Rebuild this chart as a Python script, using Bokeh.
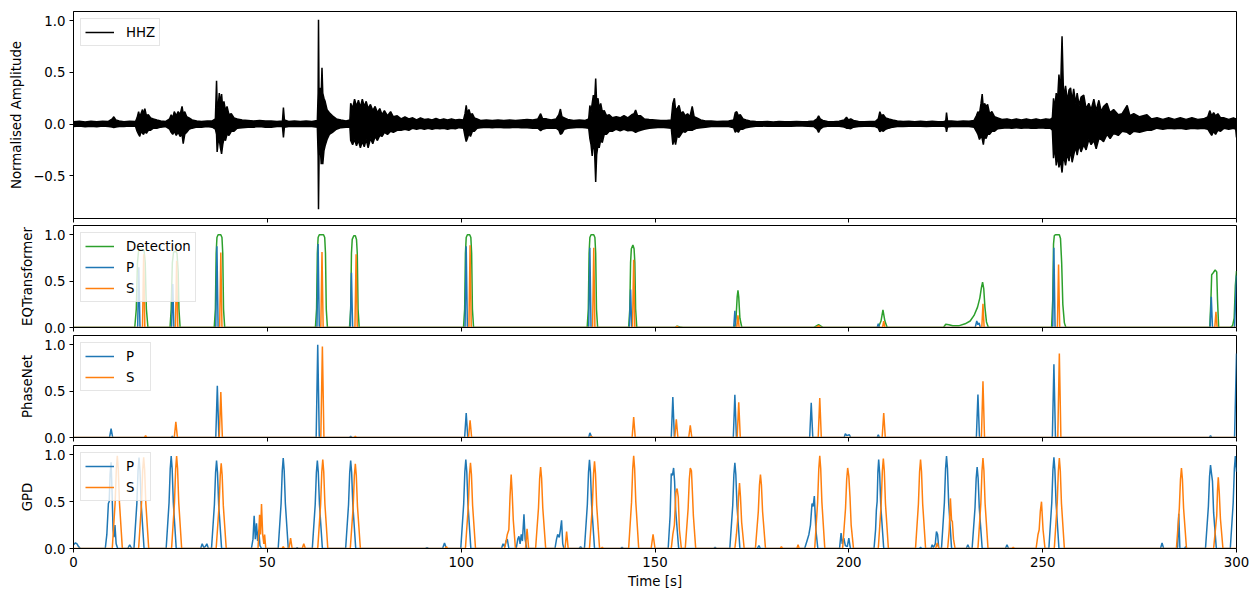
from bokeh.plotting import figure
from bokeh.layouts import column
from bokeh.models import Range1d, FixedTicker, CustomJSTickFormatter, Legend, LegendItem
from bokeh.embed import file_html
from bokeh.resources import INLINE

# ---------------- data ----------------
time_ticks = [0, 50, 100, 150, 200, 250, 300]
amp_ticks = [-0.5, 0.0, 0.5, 1.0]
prob_ticks = [0.0, 0.5, 1.0]

# HHZ trace envelope: (time [s], upper, lower) normalised amplitude
hhz_envelope = [
    (0.0, 0.022, -0.025), (1.5, 0.028, -0.02), (3.0, 0.02, -0.026), (4.5, 0.027, -0.022),
    (6.0, 0.022, -0.027), (7.5, 0.028, -0.02), (9.0, 0.025, -0.025), (10.0, 0.05, -0.03),
    (10.4, 0.07, -0.035), (10.9, 0.04, -0.03), (11.8, 0.03, -0.025), (13.0, 0.022, -0.025),
    (14.5, 0.026, -0.02), (16.0, 0.025, -0.022), (16.4, 0.06, -0.07), (16.8, 0.12, -0.1),
    (17.1, 0.07, -0.12), (17.4, 0.1, -0.07), (17.8, 0.14, -0.09), (18.1, 0.09, -0.1),
    (18.4, 0.15, -0.07), (18.8, 0.08, -0.09), (19.3, 0.09, -0.06), (19.9, 0.06, -0.06),
    (20.6, 0.05, -0.04), (21.5, 0.04, -0.04), (22.5, 0.03, -0.03), (23.8, 0.025, -0.025),
    (24.8, 0.05, -0.05), (25.2, 0.09, -0.08), (25.6, 0.06, -0.1), (26.0, 0.12, -0.07),
    (26.5, 0.08, -0.11), (27.0, 0.12, -0.08), (27.5, 0.09, -0.12), (28.0, 0.17, -0.1),
    (28.3, 0.1, -0.19), (28.7, 0.12, -0.1), (29.2, 0.07, -0.08), (29.8, 0.06, -0.05),
    (30.6, 0.04, -0.04), (31.8, 0.03, -0.03), (33.0, 0.025, -0.03), (34.5, 0.03, -0.025),
    (35.8, 0.03, -0.03), (36.6, 0.05, -0.05), (36.9, 0.42, -0.1), (37.05, 0.2, -0.27),
    (37.3, 0.15, -0.18), (37.6, 0.3, -0.15), (37.9, 0.2, -0.23), (38.2, 0.29, -0.29),
    (38.5, 0.15, -0.2), (38.8, 0.22, -0.14), (39.2, 0.13, -0.16), (39.6, 0.17, -0.1),
    (40.1, 0.09, -0.11), (40.7, 0.1, -0.07), (41.4, 0.06, -0.07), (42.2, 0.05, -0.04),
    (43.5, 0.04, -0.035), (45.0, 0.035, -0.03), (46.5, 0.03, -0.03), (48.0, 0.035, -0.025),
    (49.5, 0.03, -0.03), (51.0, 0.03, -0.03), (52.5, 0.025, -0.025), (53.9, 0.03, -0.025),
    (54.15, 0.16, -0.13), (54.4, 0.04, -0.03), (55.5, 0.025, -0.025), (57.0, 0.03, -0.025),
    (58.5, 0.025, -0.025), (60.0, 0.03, -0.025), (61.5, 0.025, -0.025), (62.9, 0.035, -0.03),
    (63.1, 0.3, -0.3), (63.2, 1.01, -0.825), (63.35, 0.2, -0.3), (63.6, 0.35, -0.2),
    (63.9, 0.3, -0.39), (64.1, 0.545, -0.3), (64.3, 0.3, -0.39), (64.6, 0.25, -0.26),
    (64.9, 0.22, -0.21), (65.4, 0.14, -0.15), (66.0, 0.11, -0.1), (66.8, 0.08, -0.08),
    (67.8, 0.05, -0.05), (69.0, 0.04, -0.035), (70.3, 0.03, -0.03), (71.3, 0.04, -0.03),
    (71.5, 0.2, -0.16), (72.0, 0.15, -0.2), (72.5, 0.24, -0.15), (73.0, 0.17, -0.21),
    (73.5, 0.23, -0.16), (74.0, 0.16, -0.23), (74.5, 0.24, -0.17), (75.0, 0.17, -0.22),
    (75.5, 0.22, -0.15), (76.0, 0.15, -0.23), (76.6, 0.19, -0.14), (77.2, 0.13, -0.19),
    (77.8, 0.17, -0.12), (78.4, 0.11, -0.16), (79.0, 0.15, -0.11), (79.6, 0.09, -0.12),
    (80.2, 0.13, -0.08), (81.0, 0.08, -0.1), (81.8, 0.12, -0.07), (82.5, 0.07, -0.08),
    (83.5, 0.08, -0.06), (84.5, 0.05, -0.06), (85.5, 0.07, -0.05), (86.5, 0.05, -0.06),
    (87.5, 0.06, -0.04), (88.5, 0.04, -0.05), (89.5, 0.06, -0.04), (90.5, 0.045, -0.05),
    (91.5, 0.05, -0.04), (92.5, 0.04, -0.05), (93.5, 0.055, -0.04), (94.5, 0.04, -0.045),
    (95.5, 0.05, -0.04), (96.5, 0.04, -0.05), (97.5, 0.05, -0.04), (98.5, 0.04, -0.045),
    (99.5, 0.045, -0.035), (100.6, 0.04, -0.04), (101.0, 0.1, -0.12), (101.3, 0.18, -0.17),
    (101.6, 0.1, -0.14), (102.0, 0.14, -0.09), (102.4, 0.09, -0.12), (102.9, 0.1, -0.07),
    (103.4, 0.06, -0.07), (104.1, 0.05, -0.04), (105.0, 0.035, -0.035), (106.5, 0.04, -0.03),
    (108.0, 0.035, -0.035), (109.5, 0.04, -0.03), (111.0, 0.035, -0.035), (112.5, 0.04, -0.035),
    (114.0, 0.035, -0.03), (115.5, 0.04, -0.035), (117.0, 0.045, -0.035), (118.5, 0.04, -0.04),
    (119.8, 0.05, -0.04), (120.5, 0.1, -0.065), (121.0, 0.05, -0.05), (122.0, 0.05, -0.04),
    (123.2, 0.04, -0.04), (124.5, 0.05, -0.04), (125.2, 0.09, -0.06), (125.6, 0.145, -0.1),
    (126.0, 0.07, -0.09), (126.6, 0.06, -0.05), (127.5, 0.045, -0.04), (129.0, 0.035, -0.035),
    (130.5, 0.04, -0.03), (132.0, 0.035, -0.035), (132.9, 0.05, -0.04), (133.2, 0.18, -0.14),
    (133.5, 0.12, -0.2), (133.8, 0.2, -0.31), (134.1, 0.28, -0.18), (134.4, 0.2, -0.25),
    (134.7, 0.44, -0.56), (134.95, 0.2, -0.3), (135.3, 0.25, -0.2), (135.6, 0.15, -0.23),
    (136.0, 0.2, -0.15), (136.4, 0.12, -0.18), (136.9, 0.13, -0.1), (137.5, 0.08, -0.1),
    (138.2, 0.09, -0.07), (139.0, 0.06, -0.07), (140.0, 0.07, -0.05), (141.0, 0.06, -0.065),
    (142.0, 0.08, -0.05), (143.0, 0.06, -0.065), (144.0, 0.09, -0.06), (144.6, 0.1, -0.07),
    (145.0, 0.135, -0.08), (145.5, 0.08, -0.07), (146.3, 0.08, -0.06), (147.2, 0.05, -0.05),
    (148.5, 0.045, -0.04), (150.0, 0.04, -0.035), (151.5, 0.035, -0.03), (153.0, 0.035, -0.035),
    (154.2, 0.04, -0.04), (154.6, 0.2, -0.2), (155.0, 0.25, -0.14), (155.3, 0.14, -0.2),
    (155.7, 0.15, -0.12), (156.2, 0.18, -0.13), (156.7, 0.1, -0.1), (157.2, 0.12, -0.07),
    (157.8, 0.08, -0.08), (158.4, 0.1, -0.06), (159.0, 0.07, -0.06), (159.6, 0.17, -0.06),
    (160.1, 0.07, -0.05), (160.8, 0.06, -0.04), (161.8, 0.04, -0.035), (163.0, 0.03, -0.03),
    (164.5, 0.03, -0.025), (166.0, 0.025, -0.025), (167.5, 0.028, -0.022), (169.0, 0.03, -0.025),
    (170.3, 0.04, -0.035), (170.7, 0.11, -0.08), (171.1, 0.12, -0.06), (171.5, 0.08, -0.08),
    (172.0, 0.09, -0.05), (172.7, 0.05, -0.05), (173.5, 0.04, -0.035), (174.5, 0.03, -0.028),
    (176.0, 0.025, -0.022), (177.5, 0.022, -0.02), (179.0, 0.025, -0.022), (180.5, 0.02, -0.02),
    (182.0, 0.025, -0.022), (183.5, 0.022, -0.02), (185.0, 0.022, -0.022), (186.5, 0.025, -0.02),
    (188.0, 0.022, -0.02), (189.5, 0.025, -0.022), (191.0, 0.03, -0.025), (191.8, 0.05, -0.05),
    (192.2, 0.08, -0.08), (192.6, 0.05, -0.05), (193.3, 0.035, -0.03), (194.5, 0.025, -0.022),
    (196.0, 0.022, -0.022), (197.5, 0.028, -0.022), (198.8, 0.04, -0.03), (199.4, 0.065, -0.04),
    (199.9, 0.04, -0.04), (200.5, 0.05, -0.045), (201.2, 0.035, -0.03), (202.5, 0.025, -0.025),
    (204.0, 0.022, -0.022), (205.5, 0.025, -0.022), (206.8, 0.025, -0.025), (207.6, 0.05, -0.04),
    (208.0, 0.12, -0.075), (208.4, 0.08, -0.06), (208.9, 0.09, -0.07), (209.5, 0.06, -0.05),
    (210.3, 0.05, -0.04), (211.3, 0.04, -0.03), (212.5, 0.03, -0.025), (214.0, 0.025, -0.025),
    (215.5, 0.028, -0.022), (217.0, 0.022, -0.022), (218.5, 0.026, -0.022), (220.0, 0.022, -0.025),
    (221.5, 0.026, -0.022), (223.0, 0.022, -0.022), (224.5, 0.025, -0.022), (225.0, 0.03, -0.03),
    (225.2, 0.11, -0.075), (225.45, 0.03, -0.03), (226.5, 0.03, -0.025), (228.0, 0.025, -0.025),
    (229.5, 0.03, -0.025), (231.0, 0.028, -0.025), (232.3, 0.035, -0.03), (232.9, 0.08, -0.07),
    (233.3, 0.12, -0.1), (233.7, 0.1, -0.15), (234.1, 0.2, -0.12), (234.4, 0.29, -0.14),
    (234.7, 0.15, -0.2), (235.0, 0.2, -0.12), (235.4, 0.17, -0.14), (235.8, 0.19, -0.1),
    (236.3, 0.1, -0.1), (236.9, 0.12, -0.07), (237.6, 0.07, -0.07), (238.4, 0.06, -0.045),
    (239.5, 0.045, -0.04), (240.8, 0.05, -0.035), (242.0, 0.04, -0.04), (243.2, 0.05, -0.035),
    (244.5, 0.04, -0.04), (245.8, 0.05, -0.035), (247.0, 0.04, -0.04), (248.3, 0.05, -0.04),
    (249.5, 0.04, -0.035), (250.8, 0.05, -0.04), (252.0, 0.045, -0.04), (252.5, 0.06, -0.06),
    (252.8, 0.25, -0.33), (253.1, 0.15, -0.2), (253.5, 0.3, -0.4), (253.8, 0.2, -0.3),
    (254.2, 0.48, -0.42), (254.6, 0.3, -0.35), (255.0, 0.85, -0.47), (255.4, 0.25, -0.3),
    (255.9, 0.37, -0.4), (256.4, 0.22, -0.28), (256.8, 0.33, -0.36), (257.2, 0.35, -0.25),
    (257.6, 0.22, -0.37), (258.0, 0.34, -0.3), (258.5, 0.2, -0.22), (258.9, 0.3, -0.3),
    (259.4, 0.18, -0.2), (259.9, 0.26, -0.27), (260.6, 0.28, -0.2), (261.2, 0.15, -0.25),
    (261.9, 0.2, -0.15), (262.5, 0.14, -0.2), (263.2, 0.24, -0.16), (263.8, 0.13, -0.24),
    (264.5, 0.23, -0.14), (265.1, 0.12, -0.15), (265.7, 0.17, -0.17), (266.6, 0.2, -0.1),
    (267.4, 0.11, -0.14), (268.3, 0.14, -0.09), (269.5, 0.09, -0.11), (270.5, 0.1, -0.07),
    (271.8, 0.18, -0.08), (272.5, 0.08, -0.1), (273.5, 0.1, -0.07), (275.0, 0.07, -0.08),
    (276.9, 0.09, -0.06), (278.0, 0.05, -0.06), (279.5, 0.06, -0.04), (281.0, 0.045, -0.05),
    (282.5, 0.06, -0.04), (284.0, 0.045, -0.045), (285.5, 0.06, -0.04), (287.0, 0.045, -0.05),
    (288.5, 0.06, -0.04), (290.0, 0.045, -0.045), (291.5, 0.05, -0.04), (292.6, 0.07, -0.05),
    (293.1, 0.13, -0.08), (293.6, 0.08, -0.11), (294.1, 0.11, -0.07), (294.6, 0.08, -0.1),
    (295.2, 0.1, -0.06), (295.9, 0.06, -0.07), (296.8, 0.06, -0.04), (298.0, 0.045, -0.05),
    (299.2, 0.06, -0.04), (299.8, 0.05, -0.05), (300.0, 0.05, -0.13),
]

# EQTransformer probabilities: (time [s], value)
eqt_detection = [
    (0, 0), (15.8, 0), (16.2, 0.2), (16.5, 0.7), (16.8, 0.83), (17.5, 0.845), (18.2, 0.83), (18.5, 0.7), (18.8, 0.2), (19.2, 0),
    (24.9, 0), (25.2, 0.2), (25.5, 0.7), (25.8, 0.81), (26.3, 0.825), (26.7, 0.8), (27.0, 0.6), (27.2, 0.2), (27.5, 0),
    (36.3, 0), (36.6, 0.2), (36.8, 0.8), (37.0, 0.97), (37.3, 1.0), (38.0, 1.0), (38.3, 0.97), (38.5, 0.8), (38.7, 0.2), (39.0, 0),
    (62.4, 0), (62.7, 0.2), (62.9, 0.8), (63.1, 0.97), (63.4, 1.0), (64.5, 1.0), (64.8, 0.97), (65.0, 0.8), (65.2, 0.2), (65.5, 0),
    (71.2, 0), (71.5, 0.2), (71.7, 0.8), (71.9, 0.95), (72.3, 0.99), (72.7, 0.99), (73.0, 0.95), (73.2, 0.8), (73.4, 0.2), (73.7, 0),
    (100.6, 0), (100.9, 0.2), (101.1, 0.8), (101.3, 0.97), (101.6, 1.0), (102.2, 1.0), (102.5, 0.97), (102.7, 0.8), (102.9, 0.2), (103.2, 0),
    (132.5, 0), (132.8, 0.2), (133.0, 0.8), (133.2, 0.97), (133.5, 1.0), (134.2, 1.0), (134.5, 0.97), (134.7, 0.8), (134.9, 0.2), (135.2, 0),
    (143.2, 0), (143.5, 0.2), (143.7, 0.7), (143.9, 0.85), (144.3, 0.89), (144.6, 0.85), (144.8, 0.7), (145.0, 0.2), (145.3, 0),
    (155.2, 0), (155.7, 0.015), (156.5, 0.005), (157.2, 0),
    (170.5, 0), (170.9, 0.1), (171.2, 0.33), (171.4, 0.4), (171.6, 0.33), (171.9, 0.1), (172.4, 0),
    (191.0, 0), (192.2, 0.03), (193.3, 0),
    (207.6, 0), (208.3, 0.07), (208.8, 0.19), (209.3, 0.07), (209.9, 0),
    (224.4, 0), (225.0, 0.035), (225.8, 0.03), (226.8, 0.018), (228.5, 0.02), (230.0, 0.04), (231.3, 0.07),
    (232.3, 0.13), (233.2, 0.22), (233.8, 0.32), (234.2, 0.43), (234.5, 0.49), (234.8, 0.42), (235.1, 0.22), (235.5, 0.06), (236.0, 0),
    (252.3, 0), (252.6, 0.3), (252.8, 0.9), (253.0, 0.99), (253.3, 1.0), (254.3, 1.0), (254.6, 0.96), (254.9, 0.7), (255.2, 0.25), (255.6, 0.05), (256.0, 0),
    (293.1, 0), (293.4, 0.3), (293.6, 0.57), (294.0, 0.59), (294.5, 0.62), (294.9, 0.6), (295.1, 0.3), (295.4, 0),
    (298.4, 0), (299.0, 0.02), (299.4, 0.1), (299.7, 0.45), (300.0, 0.61),
]
eqt_p = [
    (0, 0), (16.55, 0), (16.85, 0.65), (17.15, 0), (25.3, 0), (25.6, 0.47), (25.9, 0),
    (36.7, 0), (37.0, 0.876), (37.3, 0), (62.8, 0), (63.1, 0.9), (63.4, 0),
    (71.4, 0), (71.7, 0.59), (72.0, 0), (101.0, 0), (101.3, 0.876), (101.6, 0),
    (132.9, 0), (133.2, 0.86), (133.5, 0), (143.4, 0), (143.7, 0.41), (144.0, 0),
    (170.3, 0), (170.6, 0.18), (170.9, 0), (207.3, 0), (207.6, 0.04), (207.9, 0),
    (232.6, 0), (233.0, 0.07), (233.3, 0.03), (233.6, 0.05), (233.9, 0),
    (252.6, 0), (252.9, 0.86), (253.2, 0), (293.2, 0), (293.5, 0.33), (293.8, 0),
    (299.5, 0), (300.0, 0.56),
]
eqt_s = [
    (0, 0), (17.8, 0), (18.1, 0.79), (18.4, 0), (26.3, 0), (26.6, 0.72), (26.9, 0),
    (37.7, 0), (38.0, 0.81), (38.3, 0), (63.8, 0), (64.1, 0.815), (64.4, 0),
    (72.6, 0), (72.9, 0.79), (73.2, 0), (102.0, 0), (102.3, 0.886), (102.6, 0),
    (133.9, 0), (134.2, 0.86), (134.5, 0), (144.2, 0), (144.5, 0.73), (144.8, 0),
    (155.3, 0), (155.7, 0.012), (156.1, 0), (171.1, 0), (171.4, 0.13), (171.7, 0),
    (191.7, 0), (192.2, 0.02), (192.7, 0), (208.7, 0), (209.0, 0.07), (209.3, 0),
    (234.3, 0), (234.6, 0.255), (234.9, 0), (253.8, 0), (254.1, 0.68), (254.4, 0),
    (294.4, 0), (294.7, 0.17), (295.0, 0), (300, 0),
]

# PhaseNet probabilities
pn_p = [
    (0, 0), (9.3, 0), (9.7, 0.096), (10.1, 0), (25.2, 0), (25.5, 0.012), (25.8, 0),
    (36.7, 0), (37.1, 0.557), (37.5, 0), (62.6, 0), (63.0, 1.0), (63.4, 0),
    (71.2, 0), (71.5, 0.012), (71.8, 0), (100.9, 0), (101.3, 0.264), (101.7, 0),
    (132.9, 0), (133.2, 0.05), (133.5, 0.02), (133.8, 0), (154.2, 0), (154.6, 0.436), (155.0, 0),
    (170.2, 0), (170.6, 0.46), (171.0, 0), (189.9, 0), (190.3, 0.375), (190.7, 0),
    (198.8, 0), (199.1, 0.04), (199.5, 0.02), (200.1, 0.03), (200.5, 0),
    (207.3, 0), (207.6, 0.03), (207.9, 0), (232.9, 0), (233.3, 0.464), (233.7, 0),
    (252.5, 0), (252.9, 0.79), (253.3, 0), (293.0, 0), (293.3, 0.02), (293.6, 0),
    (299.5, 0), (300.0, 0.907),
]
pn_s = [
    (0, 0), (18.3, 0), (18.6, 0.02), (18.9, 0), (26.0, 0), (26.4, 0.17), (26.8, 0),
    (37.6, 0), (38.0, 0.49), (38.4, 0), (63.8, 0), (64.2, 0.98), (64.6, 0),
    (72.4, 0), (72.7, 0.012), (73.0, 0), (101.9, 0), (102.3, 0.186), (102.7, 0),
    (133.3, 0), (133.6, 0.012), (133.9, 0), (144.1, 0), (144.5, 0.22), (144.9, 0),
    (155.1, 0), (155.5, 0.196), (155.9, 0), (158.7, 0), (159.1, 0.13), (159.5, 0),
    (171.2, 0), (171.6, 0.38), (172.0, 0), (192.1, 0), (192.5, 0.425), (192.9, 0),
    (208.6, 0), (209.0, 0.264), (209.4, 0), (234.2, 0), (234.6, 0.607), (235.0, 0),
    (253.9, 0), (254.3, 0.907), (254.7, 0), (300, 0),
]

# GPD probabilities
gpd_p = [
    (0, 0.04), (0.5, 0.06), (0.9, 0.05), (1.3, 0.02), (1.8, 0),
    (8.2, 0), (8.6, 0.15), (9.0, 0.48), (9.2, 0.5), (9.45, 0.8), (9.7, 0.92), (9.95, 0.6), (10.2, 0.2), (10.45, 0.12), (10.7, 0.25), (11.0, 0.05), (11.4, 0),
    (14.0, 0), (14.5, 0.04), (15.0, 0),
    (15.6, 0), (16.35, 0.485), (16.65, 0.83), (16.9, 0.97), (17.15, 0.83), (17.45, 0.485), (18.2, 0),
    (23.9, 0), (24.65, 0.49), (24.95, 0.85), (25.2, 0.986), (25.45, 0.85), (25.75, 0.49), (26.5, 0),
    (32.8, 0), (33.2, 0.05), (33.6, 0.01), (34.0, 0.02), (34.4, 0.05), (34.8, 0),
    (35.6, 0), (36.35, 0.47), (36.65, 0.81), (36.9, 0.94), (37.15, 0.81), (37.45, 0.47), (38.2, 0),
    (45.9, 0), (46.3, 0.1), (46.6, 0.35), (46.9, 0.1), (47.2, 0.27), (47.5, 0.08), (47.8, 0.2), (48.1, 0.03), (48.5, 0),
    (52.8, 0), (53.55, 0.48), (53.85, 0.83), (54.1, 0.965), (54.35, 0.83), (54.65, 0.48), (55.4, 0),
    (57.4, 0), (57.7, 0.01), (58.0, 0),
    (61.6, 0), (62.35, 0.47), (62.65, 0.81), (62.9, 0.94), (63.15, 0.81), (63.45, 0.47), (64.2, 0),
    (70.2, 0), (70.95, 0.47), (71.25, 0.81), (71.5, 0.94), (71.75, 0.81), (72.05, 0.47), (72.8, 0),
    (90.8, 0), (91.2, 0.01), (91.6, 0), (95.2, 0), (95.7, 0.06), (96.2, 0),
    (99.9, 0), (100.65, 0.475), (100.95, 0.82), (101.2, 0.95), (101.45, 0.82), (101.75, 0.475), (102.5, 0),
    (110.4, 0), (110.8, 0.05), (111.2, 0.02), (111.6, 0.08), (111.9, 0.1), (112.3, 0),
    (114.2, 0), (114.6, 0.1), (114.9, 0.13), (115.2, 0.05), (115.5, 0.15), (115.8, 0.08), (116.2, 0.366), (116.5, 0.1), (116.9, 0),
    (124.2, 0), (124.6, 0.1), (124.9, 0.15), (125.3, 0.12), (125.6, 0.2), (125.9, 0.3), (126.2, 0.05), (126.5, 0),
    (130.4, 0), (130.8, 0.02), (131.2, 0),
    (131.8, 0), (132.55, 0.47), (132.85, 0.815), (133.1, 0.947), (133.35, 0.815), (133.65, 0.47), (134.4, 0),
    (141.1, 0), (141.5, 0.012), (141.9, 0),
    (153.4, 0), (153.9, 0.35), (154.2, 0.8), (154.5, 0.78), (154.8, 0.86), (155.05, 0.72), (155.35, 0.4), (156.1, 0),
    (165.1, 0), (165.5, 0.012), (165.9, 0),
    (169.3, 0), (170.05, 0.46), (170.35, 0.79), (170.6, 0.915), (170.85, 0.79), (171.15, 0.46), (171.9, 0),
    (176.4, 0), (176.8, 0.03), (177.2, 0),
    (188.6, 0), (189.2, 0.08), (189.7, 0.15), (190.1, 0.25), (190.5, 0.48), (190.8, 0.45), (191.1, 0.56), (191.5, 0.2), (192.0, 0),
    (197.6, 0), (198.0, 0.165), (198.3, 0.05), (198.7, 0.11), (199.1, 0.03), (199.6, 0.02), (200.0, 0.11), (200.4, 0),
    (206.5, 0), (206.9, 0.2), (207.1, 0.41), (207.3, 0.5), (207.5, 0.82), (207.7, 0.95), (207.95, 0.8), (208.25, 0.45), (209.0, 0),
    (218.2, 0), (218.5, 0.012), (218.8, 0),
    (221.2, 0), (221.5, 0.04), (221.8, 0.01), (222.3, 0.05), (222.6, 0.18), (222.9, 0.15), (223.2, 0),
    (223.9, 0), (224.65, 0.49), (224.95, 0.85), (225.2, 0.986), (225.45, 0.85), (225.75, 0.49), (226.5, 0),
    (230.3, 0), (230.7, 0.04), (231.1, 0),
    (231.8, 0), (232.55, 0.435), (232.85, 0.75), (233.1, 0.87), (233.35, 0.75), (233.65, 0.435), (234.4, 0),
    (240.4, 0), (240.8, 0.04), (241.2, 0),
    (251.6, 0), (252.35, 0.49), (252.65, 0.84), (252.9, 0.975), (253.15, 0.84), (253.45, 0.49), (254.2, 0),
    (280.4, 0), (280.8, 0.06), (281.2, 0),
    (284.8, 0), (285.1, 0.37), (285.4, 0), (286.6, 0), (286.9, 0.02), (287.2, 0),
    (292.0, 0), (292.75, 0.45), (293.05, 0.77), (293.3, 0.89), (293.55, 0.8), (293.8, 0.72), (294.1, 0.38), (294.8, 0),
    (298.4, 0), (299.15, 0.49), (299.45, 0.85), (299.7, 0.986), (299.95, 0.85), (300.0, 0.82),
]
gpd_s = [
    (0, 0),
    (10.0, 0), (10.75, 0.495), (11.05, 0.85), (11.3, 0.99), (11.55, 0.85), (11.85, 0.495), (12.6, 0),
    (16.8, 0), (17.55, 0.49), (17.85, 0.84), (18.1, 0.975), (18.35, 0.84), (18.65, 0.49), (19.4, 0),
    (25.3, 0), (26.05, 0.49), (26.35, 0.85), (26.6, 0.986), (26.85, 0.85), (27.15, 0.49), (27.9, 0),
    (36.8, 0), (37.55, 0.455), (37.85, 0.78), (38.1, 0.91), (38.35, 0.78), (38.65, 0.455), (39.4, 0),
    (47.6, 0), (48.0, 0.36), (48.25, 0.15), (48.5, 0.475), (48.8, 0.15), (49.1, 0.05), (49.3, 0.15), (49.6, 0),
    (53.8, 0), (54.1, 0.02), (54.4, 0), (55.6, 0), (56.0, 0.11), (56.4, 0), (59.0, 0), (59.4, 0.05), (59.8, 0),
    (63.0, 0), (63.75, 0.475), (64.05, 0.82), (64.3, 0.95), (64.55, 0.82), (64.85, 0.475), (65.6, 0),
    (71.4, 0), (72.15, 0.45), (72.45, 0.78), (72.7, 0.905), (72.95, 0.78), (73.25, 0.45), (74.0, 0),
    (95.9, 0), (96.2, 0.02), (96.5, 0),
    (101.1, 0), (101.85, 0.46), (102.15, 0.79), (102.4, 0.915), (102.65, 0.79), (102.95, 0.46), (103.7, 0),
    (111.2, 0), (111.6, 0.08), (111.9, 0.15), (112.3, 0.2), (112.6, 0.55), (112.9, 0.79), (113.15, 0.6), (113.45, 0.3), (114.0, 0),
    (116.6, 0), (117.0, 0.21), (117.4, 0),
    (119.2, 0), (119.95, 0.435), (120.25, 0.75), (120.5, 0.87), (120.75, 0.75), (121.05, 0.435), (121.8, 0),
    (126.8, 0), (127.2, 0.18), (127.6, 0),
    (133.1, 0), (133.85, 0.465), (134.15, 0.8), (134.4, 0.93), (134.65, 0.8), (134.95, 0.465), (135.7, 0),
    (136.1, 0), (136.4, 0.012), (136.7, 0),
    (143.2, 0), (143.95, 0.495), (144.25, 0.85), (144.5, 0.99), (144.75, 0.85), (145.05, 0.495), (145.8, 0),
    (149.0, 0), (149.5, 0.15), (150.0, 0),
    (154.2, 0), (154.6, 0.15), (155.0, 0.25), (155.4, 0.6), (155.7, 0.64), (156.0, 0.55), (156.3, 0.2), (156.8, 0),
    (157.8, 0), (158.55, 0.43), (158.85, 0.74), (159.1, 0.86), (159.4, 0.83), (159.65, 0.6), (159.9, 0.35), (160.5, 0),
    (170.6, 0), (171.0, 0.15), (171.3, 0.29), (171.55, 0.55), (171.8, 0.7), (172.05, 0.55), (172.35, 0.28), (173.0, 0),
    (175.9, 0), (176.65, 0.395), (176.95, 0.68), (177.2, 0.79), (177.45, 0.68), (177.75, 0.395), (178.5, 0),
    (182.3, 0), (182.6, 0.02), (182.9, 0), (186.6, 0), (186.9, 0.04), (187.2, 0),
    (191.2, 0), (191.95, 0.495), (192.25, 0.85), (192.5, 0.99), (192.75, 0.85), (193.05, 0.495), (193.8, 0),
    (198.4, 0), (199.15, 0.43), (199.45, 0.74), (199.7, 0.86), (200.0, 0.77), (200.3, 0.55), (200.6, 0.25), (201.2, 0),
    (207.6, 0), (208.35, 0.48), (208.65, 0.83), (208.9, 0.96), (209.15, 0.83), (209.45, 0.48), (210.2, 0),
    (217.2, 0), (217.95, 0.475), (218.25, 0.82), (218.5, 0.95), (218.75, 0.82), (219.05, 0.475), (219.8, 0),
    (222.4, 0), (222.8, 0.06), (223.2, 0),
    (225.5, 0), (225.9, 0.2), (226.2, 0.535), (226.5, 0.3), (226.7, 0.29), (227.0, 0.1), (227.4, 0),
    (233.3, 0), (234.05, 0.48), (234.35, 0.83), (234.6, 0.965), (234.85, 0.83), (235.15, 0.48), (235.9, 0),
    (242.0, 0), (242.4, 0.012), (242.8, 0),
    (248.3, 0), (248.8, 0.15), (249.1, 0.2), (249.4, 0.4), (249.7, 0.5), (250.1, 0.2), (250.6, 0),
    (253.0, 0), (253.75, 0.48), (254.05, 0.83), (254.3, 0.965), (254.55, 0.83), (254.85, 0.48), (255.6, 0),
    (284.5, 0), (285.25, 0.43), (285.55, 0.74), (285.8, 0.86), (286.05, 0.74), (286.35, 0.43), (287.1, 0),
    (294.1, 0), (294.6, 0.22), (294.9, 0.35), (295.1, 0.62), (295.3, 0.76), (295.55, 0.6), (295.85, 0.32), (296.5, 0),
    (300, 0),
]

# ---------------- styling ----------------
FONT = "DejaVu Sans"
FS = "10pt"
BLUE, ORANGE, GREEN = "#1f77b4", "#ff7f0e", "#2ca02c"
W = 1258
x_range = Range1d(0, 300)


def xs(pts):
    return [a[0] for a in pts]


def ys(pts):
    return [a[1] for a in pts]


def make_fig(height, y_range, top, bottom, yticks, ylabel, show_xlabels):
    p = figure(width=W, height=height, x_range=x_range, y_range=y_range,
               output_backend="svg", toolbar_location=None,
               min_border_left=73, min_border_right=22,
               min_border_top=top, min_border_bottom=bottom)
    p.grid.visible = False
    p.outline_line_color = "black"
    p.outline_line_width = 1
    p.outline_line_alpha = 1
    for ax in (p.xaxis[0], p.yaxis[0]):
        ax.major_tick_out = 4
        ax.major_tick_in = 0
        ax.minor_tick_out = 0
        ax.minor_tick_in = 0
        ax.axis_line_color = "black"
        ax.major_tick_line_color = "black"
        ax.major_tick_line_width = 1
        ax.major_label_text_font = FONT
        ax.major_label_text_font_size = FS
        ax.major_label_text_color = "black"
        ax.axis_label_text_font = FONT
        ax.axis_label_text_font_size = FS
        ax.axis_label_text_font_style = "normal"
        ax.axis_label_text_color = "black"
    p.xaxis.ticker = FixedTicker(ticks=time_ticks)
    p.yaxis.ticker = FixedTicker(ticks=yticks)
    p.yaxis.formatter = CustomJSTickFormatter(code="return tick.toFixed(1).replace('-', '\u2212');")
    p.yaxis.axis_label = ylabel
    p.yaxis.major_label_standoff = 4
    p.yaxis.axis_label_standoff = 6
    if show_xlabels:
        p.xaxis.axis_label = "Time [s]"
        p.xaxis.major_label_standoff = 4
        p.xaxis.axis_label_standoff = 4
    else:
        # shared x axis: tick marks only, no tick labels drawn
        p.xaxis.major_label_text_color = None
        p.xaxis.major_label_standoff = -20
        p.xaxis.axis_label = None
    return p


def add_legend(p, items):
    leg = Legend(items=[LegendItem(label=l, renderers=[r]) for l, r in items],
                 location="top_left", margin=7, padding=4, spacing=3,
                 glyph_width=29, glyph_height=18, label_height=18,
                 label_standoff=12,
                 label_text_font=FONT, label_text_font_size=FS, label_text_color="black",
                 border_line_color="#cccccc", border_line_width=1,
                 background_fill_color="white", background_fill_alpha=0.8)
    p.add_layout(leg)


# Panel 1: waveform (filled envelope of the dense trace)
p1 = make_fig(225, Range1d(-0.915, 1.09), 11, 7, amp_ticks, "Normalised Amplitude", False)
wt = [a[0] for a in hhz_envelope]
whi = [a[1] for a in hhz_envelope]
wlo = [a[2] for a in hhz_envelope]
p1.varea(x=wt, y1=wlo, y2=whi, fill_color="black")
r_hhz = p1.line(wt, whi, line_color="black", line_width=1.5)
p1.line(wt, wlo, line_color="black", line_width=1.5)
add_legend(p1, [("HHZ", r_hhz)])

# Panel 2: EQTransformer
p2 = make_fig(110, Range1d(0, 1.1), 0, 8, prob_ticks, "EQTransformer", False)
r_det = p2.line(xs(eqt_detection), ys(eqt_detection), line_color=GREEN, line_width=1.5)
r_p2 = p2.line(xs(eqt_p), ys(eqt_p), line_color=BLUE, line_width=1.5)
r_s2 = p2.line(xs(eqt_s), ys(eqt_s), line_color=ORANGE, line_width=1.5)
add_legend(p2, [("Detection", r_det), ("P", r_p2), ("S", r_s2)])

# Panel 3: PhaseNet
p3 = make_fig(110, Range1d(0, 1.1), 0, 8, prob_ticks, "PhaseNet", False)
r_p3 = p3.line(xs(pn_p), ys(pn_p), line_color=BLUE, line_width=1.5)
r_s3 = p3.line(xs(pn_s), ys(pn_s), line_color=ORANGE, line_width=1.5)
add_legend(p3, [("P", r_p3), ("S", r_s3)])

# Panel 4: GPD
p4 = make_fig(157, Range1d(0, 1.1), 0, 54, prob_ticks, "GPD", True)
r_p4 = p4.line(xs(gpd_p), ys(gpd_p), line_color=BLUE, line_width=1.5)
r_s4 = p4.line(xs(gpd_s), ys(gpd_s), line_color=ORANGE, line_width=1.5)
add_legend(p4, [("P", r_p4), ("S", r_s4)])

layout = column(p1, p2, p3, p4, spacing=0)
open("out.html", "w").write(file_html(layout, INLINE))
